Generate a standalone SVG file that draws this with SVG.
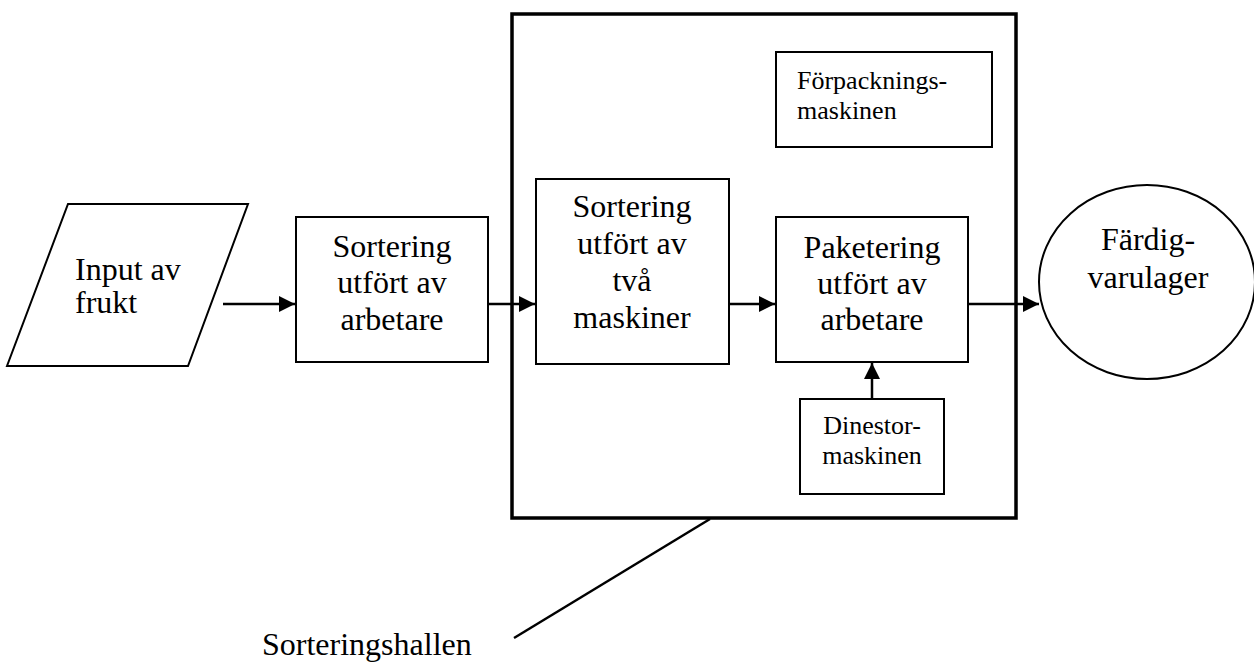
<svg xmlns="http://www.w3.org/2000/svg" width="1254" height="662" viewBox="0 0 1254 662">
<style>
.s{fill:#fff;stroke:#000;stroke-width:2}
.t{font-family:"Liberation Serif","Times New Roman",serif;font-size:32px;fill:#000}
.sm{font-family:"Liberation Serif","Times New Roman",serif;font-size:26px;fill:#000}
.c{stroke:#000;stroke-width:2.5;fill:none}
</style>
<defs>
<marker id="ah" viewBox="0 0 10 10" refX="10" refY="5" markerWidth="16" markerHeight="16" markerUnits="userSpaceOnUse" orient="auto">
<path d="M0,0 L10,5 L0,10 Z" fill="#000"/>
</marker>
</defs>
<rect width="1254" height="662" fill="#fff"/>
<g id="hall">
<rect x="512" y="14" width="504" height="504" fill="none" stroke="#000" stroke-width="3.5"/>
</g>
<g id="input">
<polygon class="s" points="68,204 248,204 188,366 7,366"/>
<text class="t" x="75" y="280">Input av</text>
<text class="t" x="75" y="313">frukt</text>
</g>
<g id="sort1">
<rect class="s" x="296" y="217" width="192" height="145"/>
<text class="t" text-anchor="middle" x="392" y="257">Sortering</text>
<text class="t" text-anchor="middle" x="392" y="293">utfört av</text>
<text class="t" text-anchor="middle" x="392" y="330">arbetare</text>
</g>
<g id="sort2">
<rect class="s" x="536" y="179" width="193" height="185"/>
<text class="t" text-anchor="middle" x="632" y="217">Sortering</text>
<text class="t" text-anchor="middle" x="632" y="254">utfört av</text>
<text class="t" text-anchor="middle" x="632" y="291">två</text>
<text class="t" text-anchor="middle" x="632" y="328">maskiner</text>
</g>
<g id="forp">
<rect class="s" x="776" y="52" width="216" height="95"/>
<text class="sm" x="797" y="89">Förpacknings-</text>
<text class="sm" x="797" y="119">maskinen</text>
</g>
<g id="paket">
<rect class="s" x="776" y="217" width="192" height="145"/>
<text class="t" text-anchor="middle" x="872" y="258">Paketering</text>
<text class="t" text-anchor="middle" x="872" y="294">utfört av</text>
<text class="t" text-anchor="middle" x="872" y="330">arbetare</text>
</g>
<g id="dinestor">
<rect class="s" x="800" y="399" width="144" height="95"/>
<text class="sm" text-anchor="middle" x="872" y="434">Dinestor-</text>
<text class="sm" text-anchor="middle" x="872" y="464">maskinen</text>
</g>
<g id="lager">
<ellipse class="s" cx="1147" cy="282" rx="108" ry="97"/>
<text class="t" text-anchor="middle" x="1148" y="250">Färdig-</text>
<text class="t" text-anchor="middle" x="1148" y="288">varulager</text>
</g>
<g id="label">
<text class="t" x="262" y="655">Sorteringshallen</text>
</g>
<g id="connectors">
<line class="c" x1="223" y1="304" x2="295" y2="304" marker-end="url(#ah)"/>
<line class="c" x1="488" y1="304" x2="535" y2="304" marker-end="url(#ah)"/>
<line class="c" x1="729" y1="304" x2="775" y2="304" marker-end="url(#ah)"/>
<line class="c" x1="968" y1="304" x2="1039" y2="304" marker-end="url(#ah)"/>
<line class="c" x1="872" y1="399" x2="872" y2="363" marker-end="url(#ah)"/>
<line class="c" x1="710" y1="519" x2="514" y2="638" stroke-width="3"/>
</g>
</svg>
